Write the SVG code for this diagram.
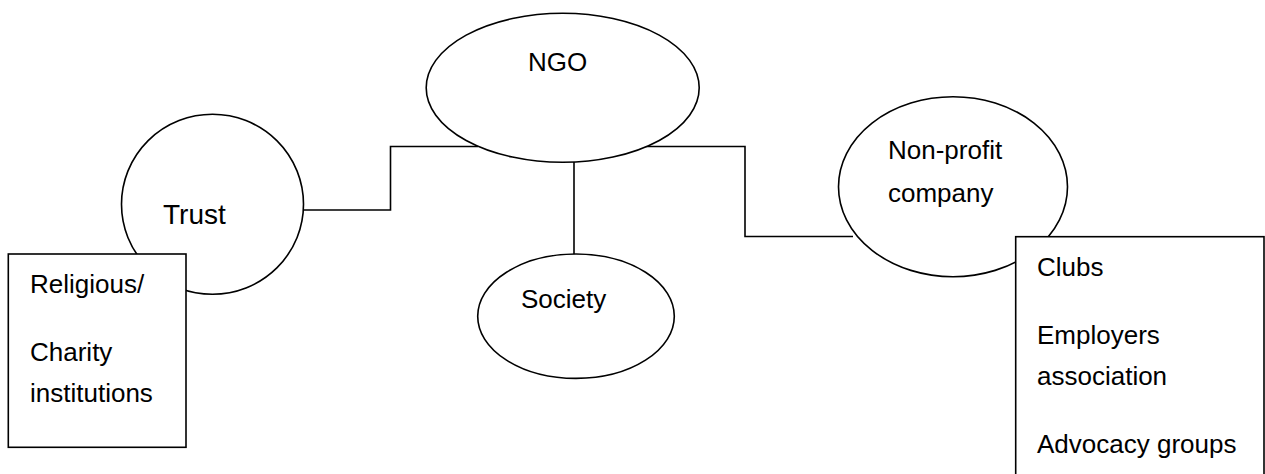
<svg xmlns="http://www.w3.org/2000/svg" width="1265" height="474" viewBox="0 0 1265 474">
<style>
.s{fill:#fff;stroke:#000;stroke-width:1.6}
.c{fill:none;stroke:#000;stroke-width:1.6}
text{font-family:"Liberation Sans",Arial,sans-serif;font-size:26px;fill:#000}
</style>
<rect width="1265" height="474" fill="#fff"/>
<g id="connectors">
<path class="c" d="M303,210 H390.5 V146.5 H478"/>
<path class="c" d="M636,146.5 H745 V236.5 H853"/>
<path class="c" d="M574,162 V254"/>
</g>
<g id="ngo">
<ellipse class="s" cx="562.7" cy="87.8" rx="136.5" ry="74.5"/>
<text x="528" y="71">NGO</text>
</g>
<g id="trust">
<ellipse class="s" cx="212.5" cy="204.3" rx="91" ry="90"/>
<text x="163" y="224" style="font-size:28px">Trust</text>
</g>
<g id="trust-box">
<rect class="s" x="8.3" y="254" width="177.7" height="193.3"/>
<text x="30" y="293.3">Religious/</text>
<text x="30" y="360.7">Charity</text>
<text x="30" y="401.7">institutions</text>
</g>
<g id="society">
<ellipse class="s" cx="576" cy="316.2" rx="98.3" ry="62.2"/>
<text x="521" y="308.3">Society</text>
</g>
<g id="nonprofit">
<ellipse class="s" cx="953" cy="186.7" rx="114.5" ry="90"/>
<text x="888" y="159">Non-profit</text>
<text x="888" y="202.3">company</text>
</g>
<g id="nonprofit-box">
<rect class="s" x="1015.7" y="236.7" width="248.3" height="250"/>
<text x="1037" y="276">Clubs</text>
<text x="1037" y="344.3">Employers</text>
<text x="1037" y="385">association</text>
<text x="1037" y="453.3">Advocacy groups</text>
</g>
</svg>
